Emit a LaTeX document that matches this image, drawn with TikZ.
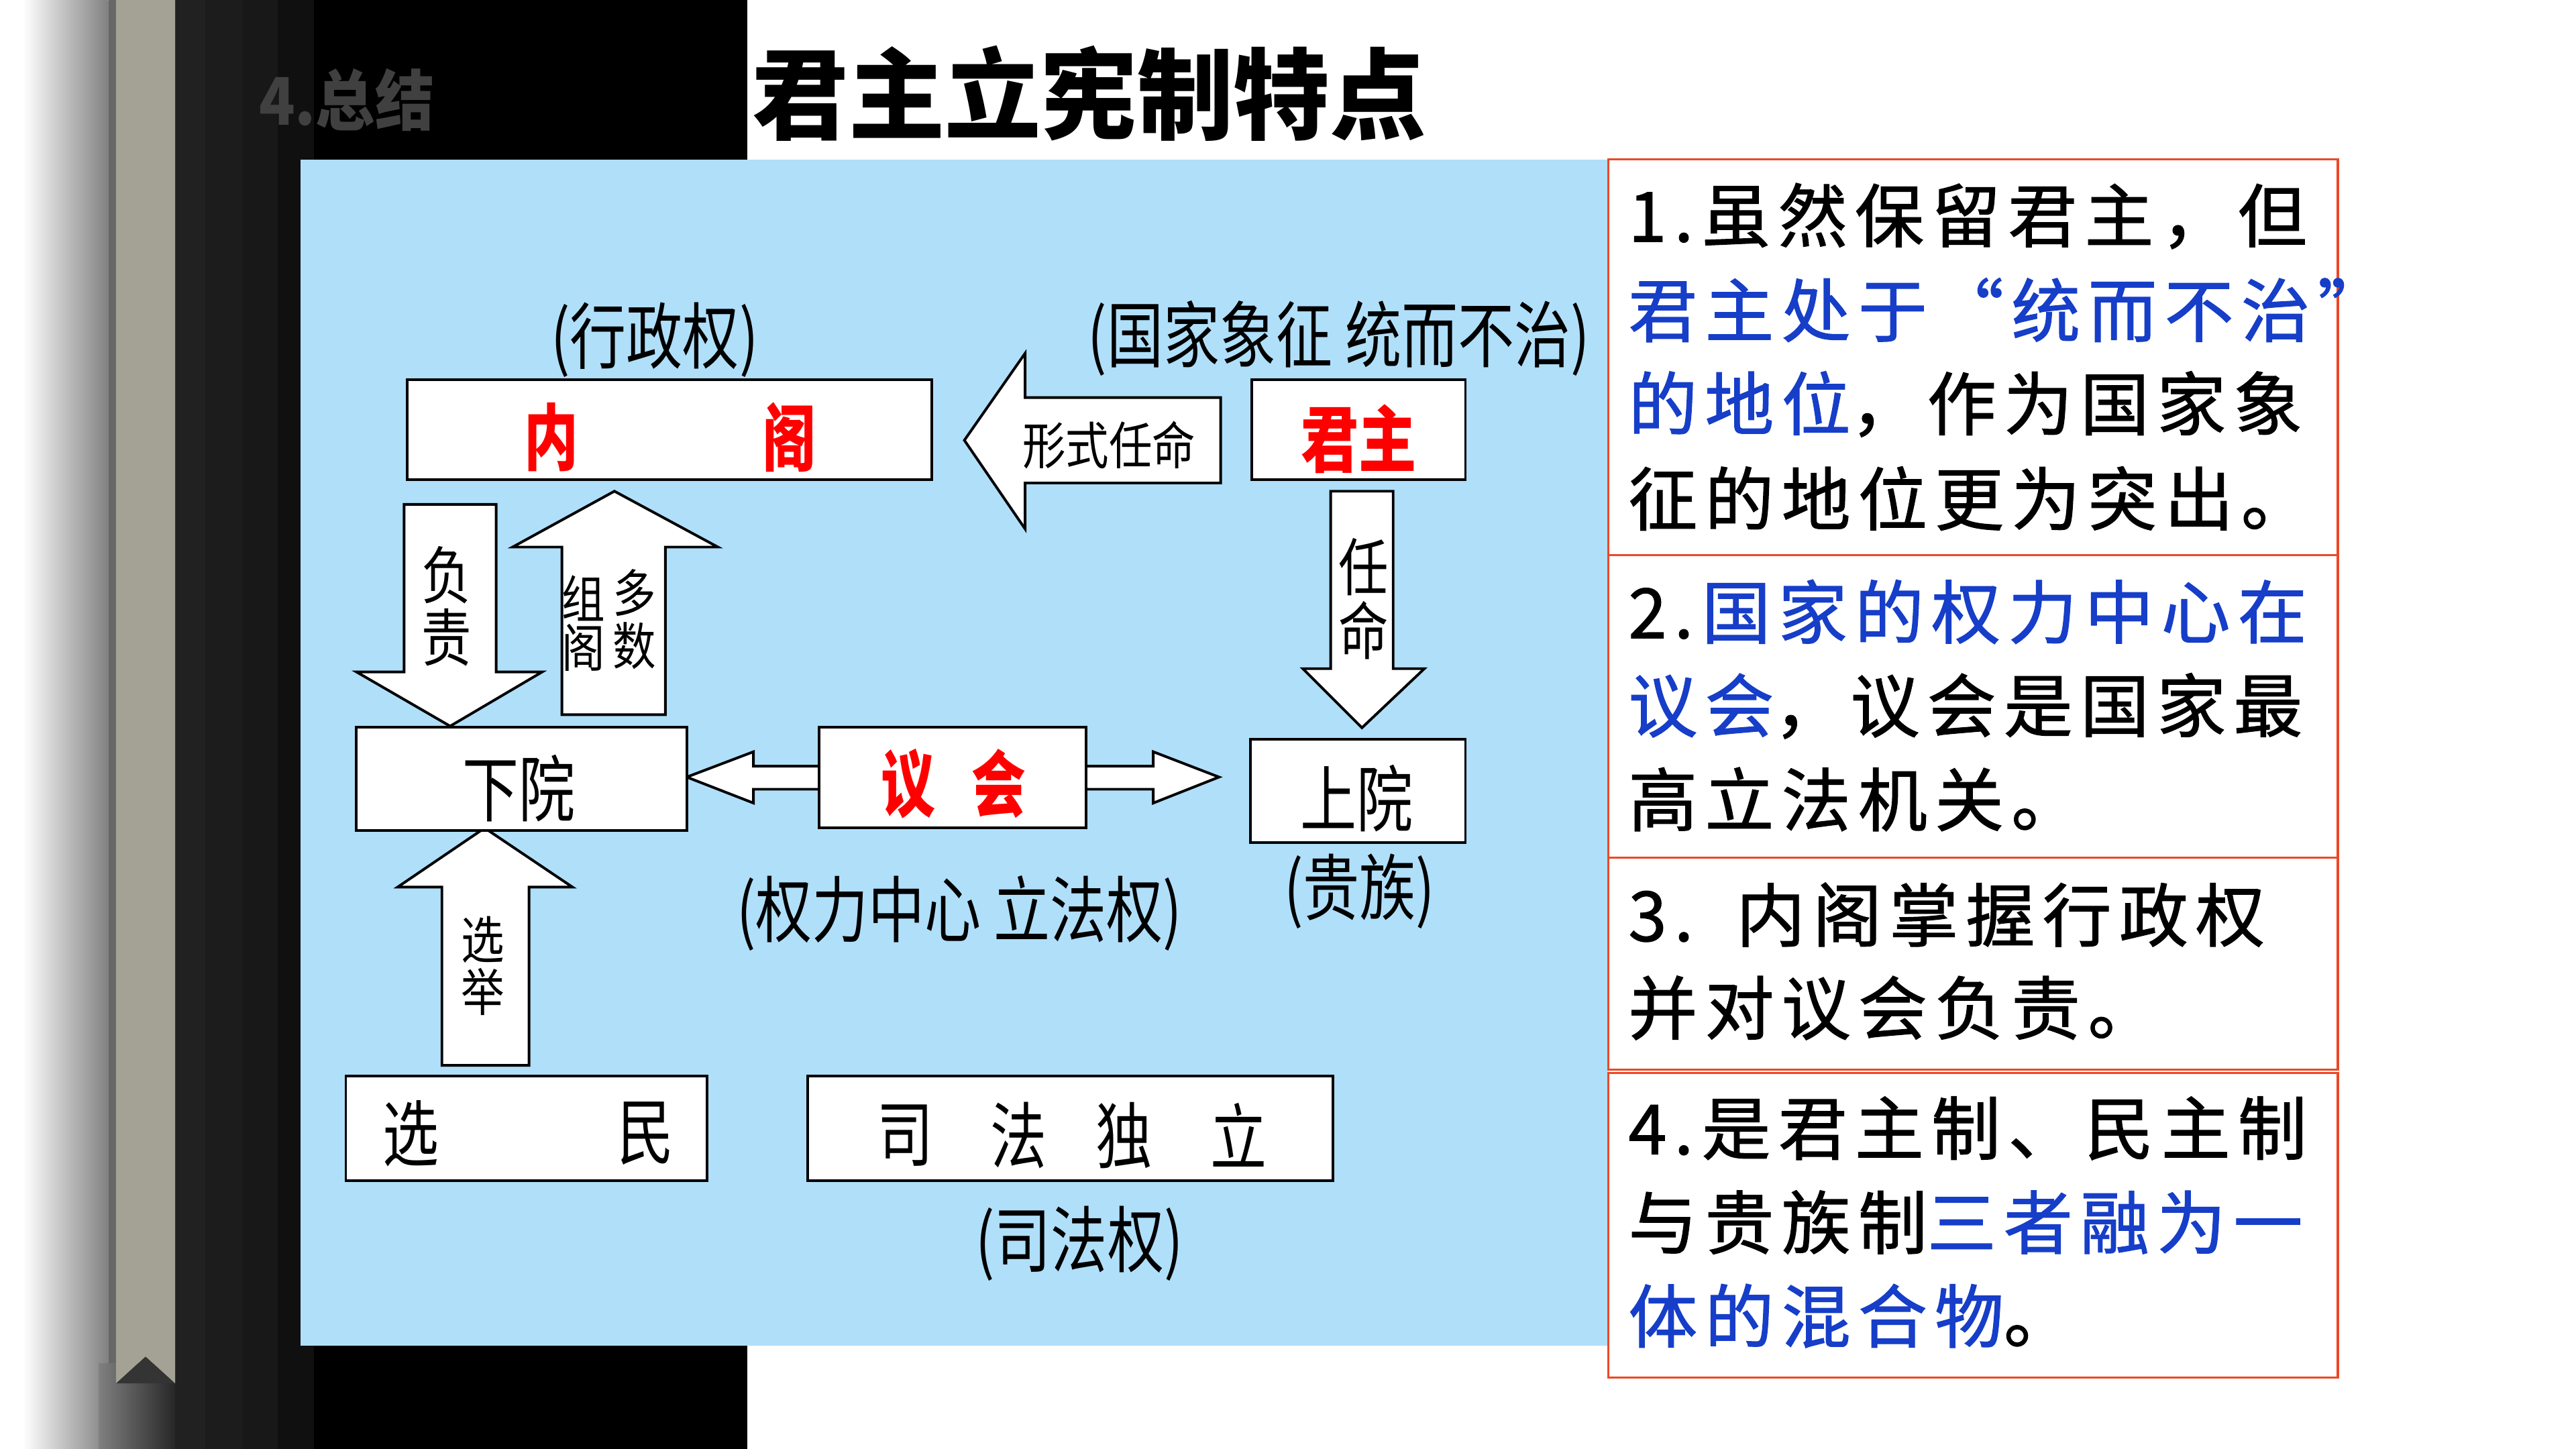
\documentclass[tikz,border=0pt]{standalone}
\usepackage{fontspec}
\usepackage{graphicx}
\newfontfamily\cjk{Noto Sans CJK SC}
\newfontfamily\kai[LetterSpace=11,FakeBold=1.2]{Noto Sans CJK SC}
\definecolor{panelblue}{RGB}{176,223,250}
\definecolor{boxred}{RGB}{236,72,38}
\definecolor{txtblue}{RGB}{22,62,200}
\definecolor{ribboncol}{RGB}{164,162,149}
\definecolor{shadowgray}{RGB}{128,128,128}
\definecolor{shadowdark}{RGB}{38,38,38}
\definecolor{notchdark}{RGB}{52,52,52}
\definecolor{bandA}{RGB}{33,33,33}
\definecolor{bandB}{RGB}{28,28,28}
\definecolor{bandC}{RGB}{24,24,24}
\definecolor{bandD}{RGB}{16,16,16}
\definecolor{titlegray}{RGB}{64,64,64}
\newcommand{\nrw}[2][0.78]{\scalebox{#1}[1]{#2}}
\begin{document}
\begin{tikzpicture}[x=1pt,y=-1pt,
  lab/.style={inner sep=0pt, font=\cjk\fontsize{44}{44}\selectfont},
  redb/.style={inner sep=0pt, text=red, font=\cjk\bfseries\fontsize{44}{44}\selectfont},
  labmid/.style={inner sep=0pt, font=\cjk\fontsize{38}{38}\selectfont},
  labsm/.style={inner sep=0pt, font=\cjk\fontsize{31}{31}\selectfont},
  boxn/.style={draw=black, line width=1.6pt, fill=white, inner sep=0pt, rectangle},
  barrow/.style={draw=black, line width=1.6pt, fill=white, line join=miter, miter limit=10},
  rbox/.style={draw=boxred, line width=1.3pt, inner sep=0pt, rectangle},
  rt/.style={inner sep=0pt, anchor=west, font=\kai\fontsize{42}{42}\selectfont}
]
\useasboundingbox (0,0) rectangle (1568,882);
% background
\fill[white] (0,0) rectangle (1568,882);
\shade[left color=white, right color=shadowgray] (14,0) rectangle (66,882);
\fill[shadowgray!80!black] (66,0) rectangle (71,882);
\shade[left color=shadowgray, right color=shadowdark] (60,830) rectangle (107,882);
\fill[notchdark] (70.6,842) -- (88.6,825.6) -- (106.6,842) -- cycle;
\fill[bandA] (106.6,0) rectangle (125,882);
\fill[bandB] (125,0) rectangle (148,882);
\fill[bandC] (148,0) rectangle (169,882);
\fill[bandD] (169,0) rectangle (191,882);
\fill[black] (191,0) rectangle (455,882);
\fill[ribboncol] (70.6,0) -- (106.6,0) -- (106.6,842) -- (88.6,825.6) -- (70.6,842) -- cycle;
% panel
\fill[panelblue] (183,97) rectangle (979,819);
% headings
\node[inner sep=0pt, text=titlegray, font=\cjk\bfseries\fontsize{40}{40}\selectfont] (sec) at (211,61) {\nrw[0.9]{4.总结}};
\node[inner sep=0pt, font=\cjk\bfseries\fontsize{58}{58}\selectfont] (title) at (663,57) {\scalebox{1.01}[1.04]{君主立宪制特点}};
% block arrows
\draw[barrow] (587,268) -- (624,215) -- (624,242) -- (743,242) -- (743,294) -- (624,294) -- (624,322) -- cycle;
\draw[barrow] (810,299) -- (848,299) -- (848,407) -- (867,407) -- (829,443) -- (793,407) -- (810,407) -- cycle;
\draw[barrow] (246,307) -- (302,307) -- (302,409) -- (330,409) -- (274,442) -- (217,409) -- (246,409) -- cycle;
\draw[barrow] (342,435) -- (342,333) -- (312,333) -- (374,299) -- (437,333) -- (405,333) -- (405,435) -- cycle;
\draw[barrow] (269,648.5) -- (269,540) -- (242,540) -- (295,504) -- (348.5,540) -- (322,540) -- (322,648.5) -- cycle;
\draw[barrow] (418,473) -- (458.6,457.6) -- (458.6,466.4) -- (500,466.4) -- (500,480.4) -- (458.6,480.4) -- (458.6,488.8) -- cycle;
\draw[barrow] (660,466.4) -- (702,466.4) -- (702,457.6) -- (742,473) -- (702,488.8) -- (702,480.4) -- (660,480.4) -- cycle;
% boxes
\node[boxn, minimum width=319pt, minimum height=61pt] (cabinet) at (407.5,261.5) {};
\node[boxn, minimum width=130pt, minimum height=61pt] (monarch) at (827,261.5) {};
\node[boxn, minimum width=201pt, minimum height=63pt] (lower) at (317.5,474) {};
\node[boxn, minimum width=162.5pt, minimum height=61.5pt] (parl) at (579.75,473.25) {};
\node[boxn, minimum width=131pt, minimum height=63pt] (upper) at (826.5,481.5) {};
\node[boxn, minimum width=220pt, minimum height=63.5pt] (voters) at (320.5,686.75) {};
\node[boxn, minimum width=320pt, minimum height=63.5pt] (judic) at (651.5,686.75) {};
% box texts
\node[redb] (cabA) at (335.5,266) {\nrw[0.75]{内}};
\node[redb] (cabB) at (480.5,266) {\nrw[0.75]{阁}};
\node[redb] (monT) at (827,267) {\nrw[0.8]{君主}};
\node[lab] (lowT) at (316,480) {\nrw{下院}};
\node[redb] (parA) at (553,477) {\nrw[0.75]{议}};
\node[redb] (parB) at (608,477) {\nrw[0.75]{会}};
\node[lab] (upT) at (826,486) {\nrw{上院}};
\node[lab] (votA) at (250,690) {\nrw{选}};
\node[lab] (votB) at (393,690) {\nrw{民}};
\node[lab] (judA) at (551,691) {\nrw{司}};
\node[lab] (judB) at (620,691) {\nrw{法}};
\node[lab] (judC) at (684,691) {\nrw{独}};
\node[lab] (judD) at (754,691) {\nrw{立}};
% labels
\node[lab] (exec) at (398.5,207) {\nrw{(行政权)}};
\node[lab] (symb) at (815,206) {\nrw{(国家象征 统而不治)}};
\node[lab] (legis) at (584,556) {\nrw{(权力中心\hspace{10pt}立法权)}};
\node[lab] (nobl) at (827.5,542.5) {\nrw{(贵族)}};
\node[lab] (judl) at (657,757) {\nrw{(司法权)}};
% arrow texts
\node[labsm] (formal) at (675,271) {\nrw[0.85]{形式任命}};
\node[labmid] (fzA) at (272,350) {\nrw[0.8]{负}};
\node[labmid] (fzB) at (272,388) {\nrw[0.8]{责}};
\node[labmid] (rmA) at (830,345) {\nrw[0.8]{任}};
\node[labmid] (rmB) at (830,383.5) {\nrw[0.8]{命}};
\node[labsm] (zgA) at (355,364) {\nrw[0.85]{组}};
\node[labsm] (zgB) at (355,394) {\nrw[0.85]{阁}};
\node[labsm] (dsA) at (386,361) {\nrw[0.85]{多}};
\node[labsm] (dsB) at (386,393) {\nrw[0.85]{数}};
\node[labsm] (xjA) at (294,572) {\nrw[0.85]{选}};
\node[labsm] (xjB) at (294,603.5) {\nrw[0.85]{举}};
% right boxes
\node[rbox, minimum width=444pt, minimum height=241pt] (k1) at (1201,217.5) {};
\node[rbox, minimum width=444pt, minimum height=184pt] (k2) at (1201,430) {};
\node[rbox, minimum width=444pt, minimum height=129pt] (k3) at (1201,586.5) {};
\node[rbox, minimum width=444pt, minimum height=185.5pt] (k4) at (1201,745.75) {};
\node[rt] (p1a) at (991,131.5) {1.\hspace{5pt}虽然保留君主，但};
\node[rt] (p1b) at (991,188.7) {\textcolor{txtblue}{君主处于“统而不治”}};
\node[rt] (p1c) at (991,246) {\textcolor{txtblue}{的地位}，作为国家象};
\node[rt] (p1d) at (991,303.4) {征的地位更为突出。};
\node[rt] (p2a) at (991,372.4) {2.\hspace{5pt}\textcolor{txtblue}{国家的权力中心在}};
\node[rt] (p2b) at (991,429.7) {\textcolor{txtblue}{议会}，议会是国家最};
\node[rt] (p2c) at (991,486.5) {高立法机关。};
\node[rt] (p3a) at (991,556.8) {3.\hspace{26pt}内阁掌握行政权};
\node[rt] (p3b) at (991,613.5) {并对议会负责。};
\node[rt] (p4a) at (991,686.8) {4.\hspace{5pt}是君主制、民主制};
\node[rt] (p4b) at (991,744) {与贵族制\textcolor{txtblue}{三者融为一}};
\node[rt] (p4c) at (991,801) {\textcolor{txtblue}{体的混合物}。};
\end{tikzpicture}
\end{document}
